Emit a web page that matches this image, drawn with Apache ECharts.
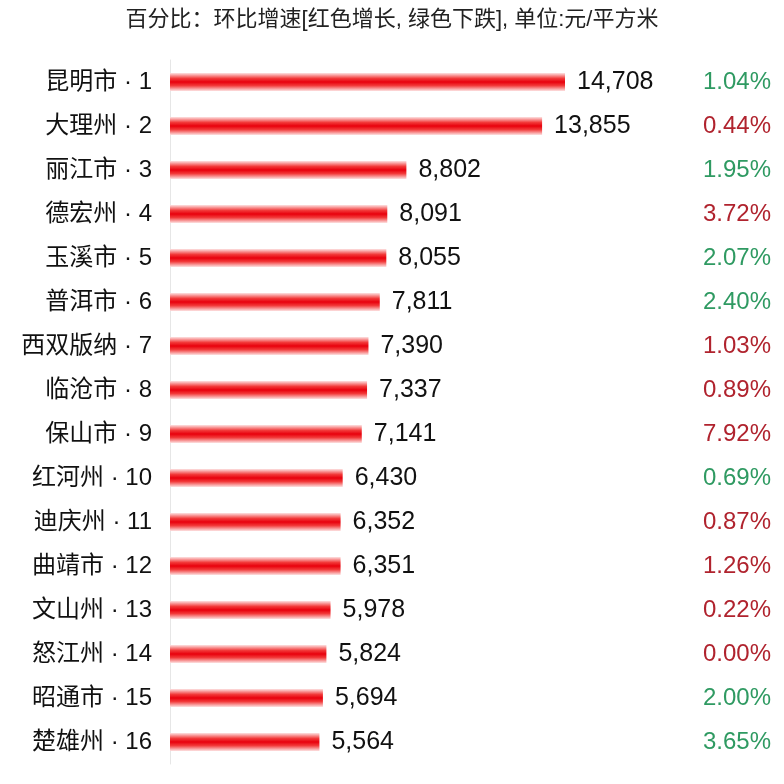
<!DOCTYPE html>
<html>
<head>
<meta charset="utf-8">
<script src="https://cdn.jsdelivr.net/npm/echarts@6/dist/echarts.min.js"></script>
<style>html,body{margin:0;padding:0;background:#fff;}#c{width:784px;height:784px;}</style>
</head>
<body>
<div id="c"></div>
<script>
const titleText = '百分比：环比增速[红色增长, 绿色下跌], 单位:元/平方米';
const cities = ['昆明市','大理州','丽江市','德宏州','玉溪市','普洱市','西双版纳','临沧市','保山市','红河州','迪庆州','曲靖市','文山州','怒江州','昭通市','楚雄州'];
const prices = [14708,13855,8802,8091,8055,7811,7390,7337,7141,6430,6352,6351,5978,5824,5694,5564];
// signed month-on-month change: positive = growth (red), negative = decline (green)
const pctChange = [-1.04,0.44,-1.95,3.72,-2.07,-2.40,1.03,0.89,7.92,-0.69,0.87,1.26,0.22,0.00,-2.00,-3.65];

const cats = cities.map((c,i)=>c+' · '+(i+1));
const chart = echarts.init(document.getElementById('c'));
const mixed = '"Liberation Sans","Noto Sans CJK SC",sans-serif';
chart.setOption({
  animation:false,
  backgroundColor:'#fff',
  title:{text:titleText,left:'center',top:4,textStyle:{fontSize:22,fontWeight:'normal',color:'#222',fontFamily:mixed}},
  grid:{left:170,top:60,width:395,height:704,containLabel:false},
  xAxis:{type:'value',min:0,max:14708,show:false},
  yAxis:[{
    type:'category',data:cats,inverse:true,
    axisLine:{show:true,lineStyle:{color:'#e6e6e6'}},axisTick:{show:false},
    axisLabel:{margin:18,fontSize:24,color:'#111',fontFamily:mixed}
  },{
    type:'category',data:cats,inverse:true,position:'right',
    axisLine:{show:false},axisTick:{show:false},
    axisLabel:{margin:206,align:'right',fontSize:24,fontFamily:'"Liberation Sans",sans-serif',
      formatter:(v,i)=>{const p=pctChange[i];return '{'+(p<0?'g':'r')+'|'+Math.abs(p).toFixed(2)+'%}';},
      rich:{g:{color:'#2f9a62',fontSize:24},r:{color:'#b0232e',fontSize:24}}}
  }],
  series:[{
    type:'bar',data:prices,barWidth:18,
    itemStyle:{color:new echarts.graphic.LinearGradient(0,0,0,1,[
      {offset:0,color:'#fde2e2'},{offset:0.3,color:'#f23a3a'},{offset:0.5,color:'#e8000c'},{offset:0.7,color:'#f23a3a'},{offset:1,color:'#fde2e2'}])},
    label:{show:true,position:'right',distance:12,fontSize:25,color:'#111',fontFamily:'"Liberation Sans",sans-serif',
      formatter:p=>p.value.toLocaleString('en-US')}
  }]
});
</script>
</body>
</html>
